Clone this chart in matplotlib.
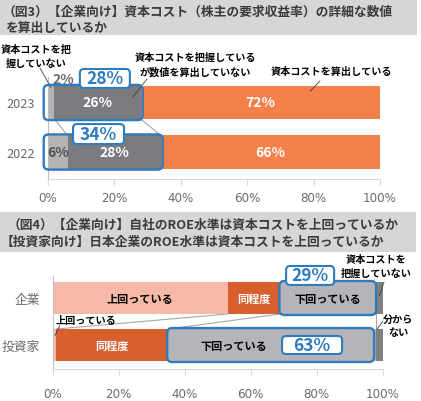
import matplotlib
matplotlib.use("Agg")
from matplotlib import pyplot as plt
from matplotlib.patches import FancyBboxPatch, Rectangle
from matplotlib.transforms import IdentityTransform

plt.rcParams['font.family'] = ['Noto Sans CJK JP', 'DejaVu Sans']

# (図3) data
years = ['2023', '2022']
not_grasp = [2, 6]          # 資本コストを把握していない
grasp_no_calc = [26, 28]    # 把握しているが数値を算出していない
calc = [72, 66]             # 資本コストを算出している
combined = [28, 34]

# (図4) data
groups = ['企業', '投資家']
above = [53, 1]      # 上回っている
same = [16, 34]      # 同程度
below = [29, 63]     # 下回っている
other = [2, 2]       # 把握していない / 分からない

xticks = [0, 20, 40, 60, 80, 100]
xticklabels = ['0%', '20%', '40%', '60%', '80%', '100%']

W, H = 421, 402
BLUE = '#2e7bbd'
TXT = '#6b6b6b'


def fx(px):
        return px / W


def fy(py):
        return 1 - py / H


fig = plt.figure(figsize=(W / 100, H / 100), dpi=100)

# title bands
fig.add_artist(Rectangle((0, fy(36)), 417 / W, 36 / H, transform=fig.transFigure,
                         facecolor='#d6d6d6', edgecolor='none', zorder=0))
fig.add_artist(Rectangle((0, fy(253)), 416 / W, 40 / H, transform=fig.transFigure,
                         facecolor='#d6d6d6', edgecolor='none', zorder=0))
tkw = dict(fontsize=9.2, fontweight='bold', color='#3a3a3a', va='center', ha='left')
fig.text(fx(3), fy(12), '（図3）【企業向け】資本コスト（株主の要求収益率）の詳細な数値', **tkw)
fig.text(fx(5), fy(28), 'を算出しているか', **tkw)
fig.text(fx(8), fy(225), '（図4）【企業向け】自社のROE水準は資本コストを上回っているか', **tkw)
fig.text(fx(1), fy(242), '【投資家向け】日本企業のROE水準は資本コストを上回っているか', **tkw)


def style_axes(ax, labels, pad_x):
        ax.set_xlim(0, 100)
        for s in ['top', 'right']:
                ax.spines[s].set_visible(False)
        ax.spines['left'].set_color('#bfbfbf')
        ax.spines['bottom'].set_color('#d9d9d9')
        ax.set_xticks(xticks)
        ax.set_xticklabels(xticklabels, family='DejaVu Sans', fontsize=8.6, color=TXT)
        ax.tick_params(axis='x', length=4, color='#d9d9d9', pad=pad_x)
        ax.set_yticks(range(len(labels)))
        ax.set_yticklabels(labels, fontsize=9.2, color=TXT)
        ax.tick_params(axis='y', length=0, pad=9)
        ax.set_facecolor('none')


def outline(ax, x0, x1, yc, h, padl=3, padr=2, pady=1):
        p0 = ax.transData.transform((x0, yc + h / 2))
        p1 = ax.transData.transform((x1, yc - h / 2))
        patch = FancyBboxPatch((p0[0] - padl, p0[1] - pady), p1[0] - p0[0] + padl + padr,
                               p1[1] - p0[1] + 2 * pady,
                               boxstyle='round,pad=0,rounding_size=5', transform=IdentityTransform(),
                               fill=False, edgecolor=BLUE, linewidth=1.7, zorder=6)
        fig.add_artist(patch)


def tag(ax, x, y, s, w, h):
        c = ax.transData.transform((x, y))
        fig.add_artist(FancyBboxPatch((c[0] - w / 2, c[1] - h / 2), w, h,
                                      boxstyle='round,pad=0,rounding_size=4',
                                      transform=IdentityTransform(), facecolor='white',
                                      edgecolor=BLUE, linewidth=1.5, zorder=7))
        t = ax.text(x, y, s, ha='center', va='center', fontsize=12.5, fontweight='bold', color=BLUE,
                    clip_on=False)
        return t


# ---------- (図3) ----------
ax1 = fig.add_axes([fx(47.7), fy(180), (380 - 47.7) / W, (180 - 78) / H])
h1 = 0.67
ax1.set_ylim(1.545, -0.515)
style_axes(ax1, years, 5)
y1 = range(len(years))
left2 = not_grasp
left3 = [a + b for a, b in zip(not_grasp, grasp_no_calc)]
ax1.barh(y1, not_grasp, height=h1, color='#b4b4b6', zorder=2)
ax1.barh(y1, grasp_no_calc, left=left2, height=h1, color='#7b7b7f', zorder=2)
ax1.barh(y1, calc, left=left3, height=h1, color='#f4804a', zorder=2)

# series lines
for a, b in [(left2[0], left2[1]), (left3[0], left3[1])]:
        ax1.plot([a, b], [0 + h1 / 2, 1 - h1 / 2], color='#a6a6a6', lw=0.8, zorder=1)

for i in y1:
        ax1.text(left2[i] + grasp_no_calc[i] / 2, i, f'{grasp_no_calc[i]}%', ha='center', va='center',
                 color='white', fontsize=10, fontweight='bold', zorder=4)
        ax1.text(left3[i] + calc[i] / 2, i, f'{calc[i]}%', ha='center', va='center',
                 color='white', fontsize=10, fontweight='bold', zorder=4)
ax1.text(1.3, -0.47, f'{not_grasp[0]}%', ha='left', va='center', color='#6b6b6b',
         fontsize=10, fontweight='bold', clip_on=False)
ax1.text(not_grasp[1] / 2, 1, f'{not_grasp[1]}%', ha='center', va='center', color='#505050',
         fontsize=10, fontweight='bold', zorder=4)

for i in y1:
        outline(ax1, 0, combined[i], i, h1, padl=4, padr=2)

fig.text(fx(36), fy(57), '資本コストを把\n握していない', ha='center', va='center',
         fontsize=7.3, fontweight='bold', linespacing=1.5)
fig.text(fx(195), fy(65.5), '資本コストを把握している\nが数値を算出していない', ha='center', va='center',
         fontsize=7.3, fontweight='bold', linespacing=1.5)
fig.text(fx(331), fy(72), '資本コストを算出している', ha='center', va='center',
         fontsize=7.3, fontweight='bold')
arrow = dict(arrowstyle='-', lw=0.6, color='#404040', shrinkA=0, shrinkB=0)
ax1.annotate('', xy=(1, -0.3), xytext=(fx(40), fy(69)), textcoords='figure fraction', arrowprops=arrow)
ax1.annotate('', xy=(25.5, -0.1), xytext=(fx(147), fy(80)), textcoords='figure fraction', arrowprops=arrow)
ax1.annotate('', xy=(79, -0.23), xytext=(fx(320), fy(82)), textcoords='figure fraction', arrowprops=arrow)

# ---------- (図4) ----------
ax2 = fig.add_axes([fx(52.7), fy(370), 330 / W, (370 - 277) / H])
h2 = 0.68
ax2.set_ylim(1.51, -0.468)
style_axes(ax2, groups, 9)
y2 = range(len(groups))
c1 = above
c2 = [a + b for a, b in zip(above, same)]
c3 = [a + b for a, b in zip(c2, below)]
ax2.barh(y2, above, height=h2, color='#f8b8a8', zorder=2)
ax2.barh(y2, same, left=c1, height=h2, color='#d95f2e', zorder=2)
ax2.barh(y2, below, left=c2, height=h2, color='#b5b5b9', zorder=2)
ax2.barh(y2, other, left=c3, height=h2, color='#808080', zorder=2)

for a, b in [(c1[0], c1[1]), (c2[0], c2[1]), (c3[0], c3[1])]:
        ax2.plot([a, b], [0 + h2 / 2, 1 - h2 / 2], color='#a6a6a6', lw=0.8, zorder=1)

ax2.text(above[0] / 2, 0, '上回っている', ha='center', va='center', fontsize=8, fontweight='bold', zorder=4)
for i in y2:
        ax2.text(c1[i] + same[i] / 2, i, '同程度', ha='center', va='center', color='white',
                 fontsize=8, fontweight='bold', zorder=4)
ax2.text(c2[0] + below[0] / 2, 0, '下回っている', ha='center', va='center', fontsize=8,
         fontweight='bold', zorder=4)
ax2.text(55, 1, '下回っている', ha='center', va='center', fontsize=8, fontweight='bold', zorder=4)

outline(ax2, c2[0], c3[0], 0, h2, padl=1, padr=0)
outline(ax2, c2[1], c3[1], 1, h2, padl=1, padr=-2)

fig.text(fx(376), fy(267.5), '資本コストを\n把握していない', ha='center', va='center',
         fontsize=7.3, fontweight='bold', linespacing=1.5)
fig.text(fx(398), fy(326.5), '分から\nない', ha='center', va='center',
         fontsize=7.3, fontweight='bold', linespacing=1.5)
fig.text(fx(86), fy(321), '上回っている', ha='center', va='center', fontsize=7.3, fontweight='bold')
ax2.annotate('', xy=(99, -0.05), xytext=(fx(384), fy(283)), textcoords='figure fraction', arrowprops=arrow)
ax2.annotate('', xy=(98.3, 0.66), xytext=(fx(383), fy(322)), textcoords='figure fraction', arrowprops=arrow)
ax2.annotate('', xy=(0.7, 0.8), xytext=(fx(60), fy(326)), textcoords='figure fraction', arrowprops=arrow)

# percentage tags (moved to the figure so they sit over the outlines)
for t in [tag(ax1, 17.2, -0.485, f'{combined[0]}%', 50, 19),
          tag(ax1, 15.3, 0.637, f'{combined[1]}%', 51, 20),
          tag(ax2, 78, -0.479, f'{below[0]}%', 48, 19),
          tag(ax2, 78.6, 1, f'{below[1]}%', 60, 18)]:
        t.remove()
        fig.add_artist(t)
        t.set_zorder(8)

fig.savefig('out.png', dpi=100)
